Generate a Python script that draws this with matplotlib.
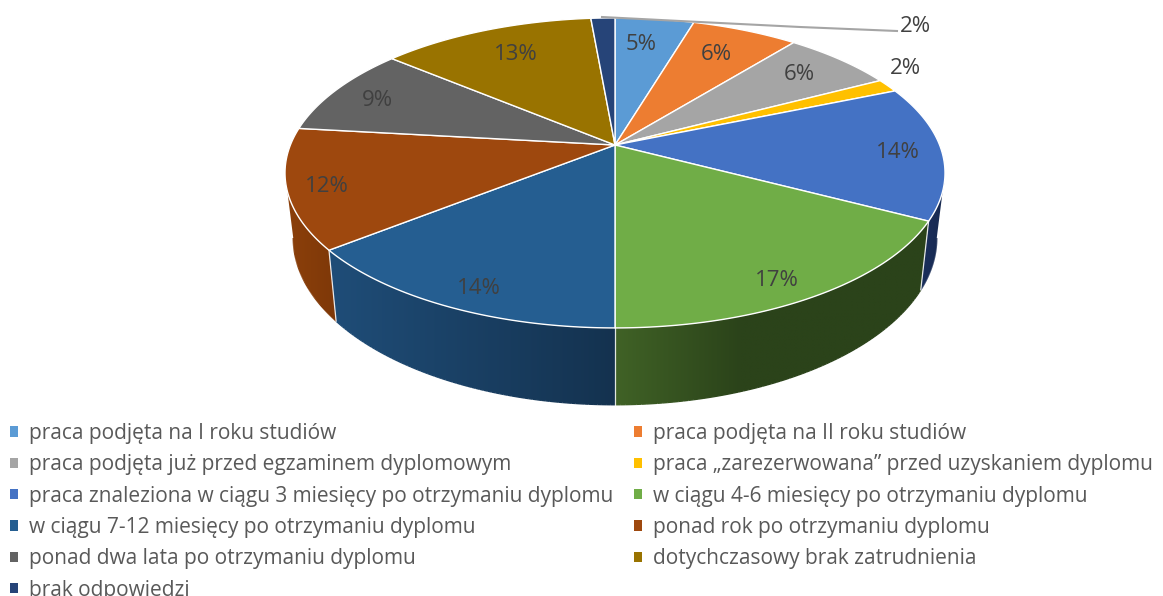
import numpy as np
import matplotlib
matplotlib.use('Agg')
from matplotlib import pyplot as plt
from matplotlib.collections import LineCollection
from matplotlib.colors import to_rgb
from matplotlib.patches import Patch, Polygon

categories = [
    'praca podjęta na I roku studiów',
    'praca podjęta na II roku studiów',
    'praca podjęta już przed egzaminem dyplomowym',
    'praca „zarezerwowana” przed uzyskaniem dyplomu',
    'praca znaleziona w ciągu 3 miesięcy po otrzymaniu dyplomu',
    'w ciągu 4-6 miesięcy po otrzymaniu dyplomu',
    'w ciągu 7-12 miesięcy po otrzymaniu dyplomu',
    'ponad rok po otrzymaniu dyplomu',
    'ponad dwa lata po otrzymaniu dyplomu',
    'dotychczasowy brak zatrudnienia',
    'brak odpowiedzi',
]
# slice sizes as measured on the picture, the printed labels are rounded differently
shares = [4.6, 6.2, 6.5, 1.4, 14.0, 17.3, 14.3, 12.5, 9.3, 12.5, 1.4]
labels = ['5%', '6%', '6%', '2%', '14%', '17%', '14%', '12%', '9%', '13%', '2%']

colors = ['#5b9bd5', '#ed7d31', '#a5a5a5', '#ffc000', '#4472c4', '#70ad47',
          '#255e91', '#9e480e', '#636363', '#997300', '#264478']
# side wall colours, left and right end of each slice
wall_left = ['#3d6a94', '#a35420', '#737373', '#b08500', '#1a2f5c', '#406226',
             '#1f4d78', '#8c400b', '#454545', '#6b5000', '#1a2f54']
wall_right = ['#3d6a94', '#a35420', '#737373', '#b08500', '#18294f', '#2b431a',
              '#14324f', '#7e3808', '#454545', '#6b5000', '#1a2f54']
# part of the width the gradient needs to reach wall_right
wall_knee = [1, 1, 1, 1, 1, 0.4, 1, 1, 1, 1, 1]

# label centres in figure pixels
label_pos = [(641, 45), (716, 54), (799, 75), (905, 68), (898, 152), (777, 280),
             (479, 288), (327, 186), (377, 101), (516, 54), (915, 26)]

# perspective of the pie
xc, yc = 615, 145
R, b, a = 324.6, 150, 0.18
depth = 63
shrink = 0.975


def top(ang):
    u, v = np.sin(ang), np.cos(ang)
    w = 1 + a * v
    return xc + R * u / w, yc - b * v / w


def bottom(ang):
    u, v = np.sin(ang), np.cos(ang)
    w = 1 + a * v
    return xc + shrink * R * u / w, yc - b * v / w + depth / w


def wall_colour(i, t):
    t = np.clip(t / wall_knee[i], 0, 1)[..., None]
    return np.array(to_rgb(wall_left[i])) * (1 - t) + np.array(to_rgb(wall_right[i])) * t


fig = plt.figure(figsize=(11.63, 5.96), dpi=100)
ax = fig.add_axes([0, 0, 1, 1])
ax.axis('off')

edges = np.radians(np.cumsum([0] + shares) * 3.6)

# the wall is only seen between the two points where the rim turns back
turn_r = np.arccos(-a)
turn_l = 2 * np.pi - turn_r

# side walls first, gradient runs left to right on screen
for i in range(len(shares)):
    a0, a1 = max(edges[i], turn_r), min(edges[i + 1], turn_l)
    if a1 <= a0:
        continue
    steps = np.linspace(a0, a1, 80)
    xt, yt = top(steps)
    xb, yb = bottom(steps)
    px = np.r_[xt, xb[::-1]]
    py = np.r_[yt, yb[::-1]]
    x0, x1 = px.min(), px.max()
    grad = wall_colour(i, np.linspace(0, 1, 256))[None, :, :]
    im = ax.imshow(grad, extent=(x0, x1, py.max(), py.min()), aspect='auto',
                   interpolation='bilinear', zorder=1)
    im.set_clip_path(Polygon(np.c_[px, py], transform=ax.transData))
    # smooth the lower edge, image clipping is jagged
    segs = np.stack([np.c_[xb[:-1], yb[:-1]], np.c_[xb[1:], yb[1:]]], axis=1)
    tm = (0.5 * (xb[:-1] + xb[1:]) - x0) / max(x1 - x0, 1)
    ax.add_collection(LineCollection(segs, colors=wall_colour(i, tm), linewidths=1.0, zorder=1.1))

ax.set_xlim(0, 1163)
ax.set_ylim(596, 0)

# white seams on the visible part of the wall
for ang in edges:
    if np.cos(ang) < -0.3:
        xt, yt = top(ang)
        xb, yb = bottom(ang)
        ax.plot([xt, xb], [yt, yb], color='white', lw=0.9, alpha=0.85, zorder=2)

# top face
for i in range(len(shares)):
    steps = np.linspace(edges[i], edges[i + 1], 120)
    xs, ys = top(steps)
    ax.fill(np.r_[xc, xs], np.r_[yc, ys], facecolor=colors[i], edgecolor='white', lw=1.0, zorder=3)

# leader line of the small last slice
ax.plot([602, 680, 800, 897], [17, 21, 27, 31], color='#a5a5a5', lw=1.5, zorder=4)

for txt, (x, y) in zip(labels, label_pos):
    ax.text(x, y, txt, ha='center', va='center', fontsize=16,
            family='Open Sans', color='#404040', zorder=5)

# legend runs row by row in the picture, matplotlib fills column by column
order = list(range(0, 11, 2)) + list(range(1, 11, 2))
handles = [Patch(facecolor=colors[i], edgecolor='none', label=categories[i]) for i in order]
ax.legend(handles=handles, ncol=2, loc='upper left', bbox_to_anchor=(10, 423),
          bbox_transform=ax.transData, frameon=False, borderpad=0, borderaxespad=0,
          handlelength=0.39, handleheight=0.39, handletextpad=0.51,
          labelspacing=0.495, columnspacing=1.0, labelcolor='#595959',
          prop={'family': 'Open Sans', 'size': 15.05})

fig.savefig('out.png', dpi=100)
